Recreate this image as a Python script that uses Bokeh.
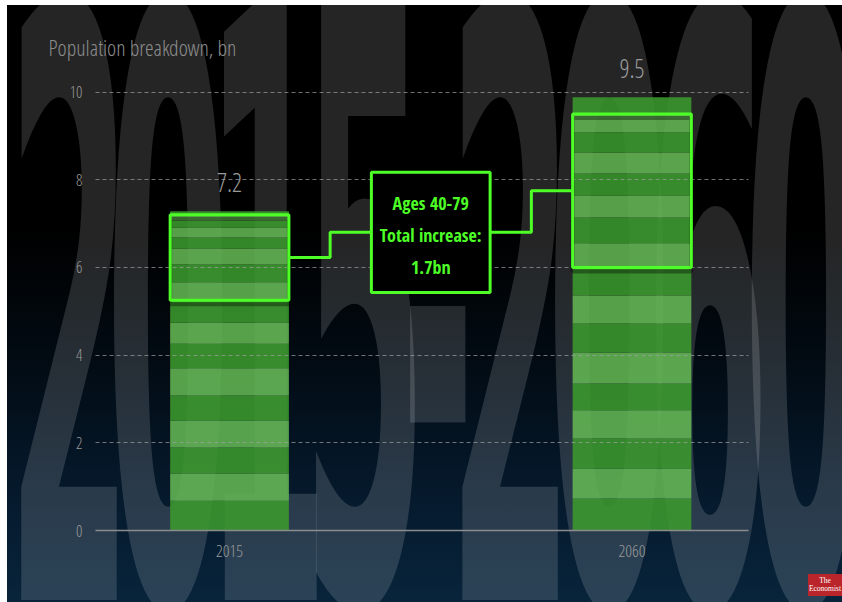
import numpy as np
from bokeh.plotting import figure
from bokeh.models import (ColumnDataSource, FixedTicker, InlineStyleSheet, Range1d)
from bokeh.core.properties import value
from bokeh.embed import file_html
from bokeh.resources import INLINE

# ---- data -------------------------------------------------------------
years = ["2015", "2060"]
year_pos = [1, 3]

# cumulative population (bn) at each age-band boundary, youngest band first
band_edges_2015 = [0, 0.68, 1.30, 1.89, 2.51, 3.08, 3.70, 4.26, 4.74, 5.25,
                   5.66, 6.07, 6.43, 6.68, 6.91, 7.07, 7.20, 7.28]
band_edges_2060 = [0, 0.73, 1.41, 2.10, 2.74, 3.35, 4.06, 4.72, 5.36, 6.00,
                   6.55, 7.14, 7.64, 8.14, 8.62, 9.08, 9.50, 9.88]

# span of the 40-79 age group in each year (bn)
cohort_low = [5.25, 6.00]
cohort_high = [7.2, 9.5]

y_ticks = [0, 2, 4, 6, 8, 10]

title_text = "Population breakdown, bn"
note_lines = ["Ages 40-79", "Total increase:", "1.7bn"]
watermark = "2015-2060"

# ---- style ------------------------------------------------------------
LIGHT_FONT = "Open Sans Condensed Light"
BOLD_FONT = "Open Sans Condensed"
GREEN = "#4dff26"
DARK = "#3b9a2e"
LIGHT = "#63b653"
GREY = "#9a9a9a"
BAR_W = 0.59
NOTE_BOTTOM, NOTE_TOP = 5.43, 8.17

W, H = 842, 602
BORDER_L, BORDER_R, BORDER_T, BORDER_B = 95, 94, 55, 72
PX_PER_UNIT = 43.85
Y_MAX = (H - BORDER_T - BORDER_B) / PX_PER_UNIT

css = """
:host {
  position: relative;
  overflow: hidden;
  background:
    linear-gradient(to right, #fff 0, #fff 7px, transparent 7px),
    linear-gradient(to bottom, #fff 0, #fff 5px, transparent 5px),
    linear-gradient(to bottom, #000 0px, #000 230px, #020b13 360px, #05182a 480px, #08243b 602px);
}
:host::before {
  content: "%s";
  position: absolute;
  left: 7px;
  top: 5px;
  width: 3900px;
  height: 597px;
  overflow: hidden;
  white-space: nowrap;
  font-family: 'DejaVu Sans', sans-serif;
  font-weight: bold;
  font-size: 819px;
  line-height: 623px;
  letter-spacing: -0.15em;
  color: rgba(255, 255, 255, 0.145);
  transform-origin: 0 0;
  transform: scaleX(0.22);
}
:host::after {
  content: "The\\A Economist";
  white-space: pre;
  position: absolute;
  left: 808px;
  top: 574px;
  width: 34px;
  height: 22px;
  box-sizing: border-box;
  padding-top: 3px;
  background: #b9252a;
  color: #fff;
  font-family: 'Liberation Serif', serif;
  font-size: 7.5px;
  line-height: 8px;
  text-align: center;
  z-index: 10;
}
""" % watermark

p = figure(width=W, height=H, output_backend="svg", toolbar_location=None,
           x_range=Range1d(0.334, 3.579), y_range=Range1d(0, Y_MAX),
           min_border_left=BORDER_L, min_border_right=BORDER_R,
           min_border_top=BORDER_T, min_border_bottom=BORDER_B,
           background_fill_alpha=0, border_fill_alpha=0,
           outline_line_color=None,
           stylesheets=[InlineStyleSheet(css=css)])

# ---- title ------------------------------------------------------------------
p.title.text = title_text
p.title.align = "left"
p.title.offset = 48 - BORDER_L
p.title.standoff = -12
p.title.text_color = "#8c8c8c"
p.title.text_font = LIGHT_FONT
p.title.text_font_style = "normal"
p.title.text_font_size = "22px"

# ---- axes & grid --------------------------------------------------------
p.xaxis.ticker = FixedTicker(ticks=year_pos)
p.xaxis.major_label_overrides = {pos: yr for pos, yr in zip(year_pos, years)}
p.xaxis.axis_line_color = "#8c8c8c"
p.xaxis.axis_line_width = 1.5
p.xaxis.major_tick_line_color = None
p.xaxis.minor_tick_line_color = None
p.xaxis.major_label_text_color = GREY
p.xaxis.major_label_text_font = LIGHT_FONT
p.xaxis.major_label_text_font_size = "17px"
p.xaxis.major_label_standoff = 8

p.yaxis.ticker = FixedTicker(ticks=y_ticks)
p.yaxis.axis_line_color = None
p.yaxis.major_tick_line_color = None
p.yaxis.minor_tick_line_color = None
p.yaxis.major_label_text_color = GREY
p.yaxis.major_label_text_font = LIGHT_FONT
p.yaxis.major_label_text_font_size = "16px"
p.yaxis.major_label_standoff = 7

p.xgrid.grid_line_color = None
p.ygrid.ticker = FixedTicker(ticks=[t for t in y_ticks if t > 0])
p.ygrid.grid_line_color = "#a0a0a0"
p.ygrid.grid_line_alpha = 0.7
p.ygrid.grid_line_dash = "4 3"
p.ygrid.level = "guide"

# ---- striped bars (one stripe per age band) -----------------------------
for pos, edges in zip(year_pos, [band_edges_2015, band_edges_2060]):
    e = np.asarray(edges, dtype=float)
    n = len(e) - 1
    src = ColumnDataSource(dict(
        bottom=e[:-1], top=e[1:],
        color=[DARK if i % 2 == 0 else LIGHT for i in range(n)],
    ))
    p.quad(left=pos - BAR_W / 2, right=pos + BAR_W / 2, bottom="bottom", top="top",
           fill_color="color", fill_alpha=0.88, line_color=None, source=src)

# ---- 40-79 highlight boxes ---------------------------------------------
shadow = 4 / PX_PER_UNIT
cohort = ColumnDataSource(dict(
    left=[x - BAR_W / 2 for x in year_pos],
    right=[x + BAR_W / 2 for x in year_pos],
    bottom=cohort_low, top=cohort_high,
    sbottom=[v - shadow for v in cohort_low], stop=[v - shadow for v in cohort_high],
))
p.quad(left="left", right="right", bottom="sbottom", top="stop", source=cohort,
       fill_color=None, line_color="black", line_alpha=0.35, line_width=4,
       level="annotation")
p.quad(left="left", right="right", bottom="bottom", top="top", source=cohort,
       fill_color=None, line_color=GREEN, line_width=3, level="annotation")

# ---- connectors and note box --------------------------------------------
note_x = (year_pos[0] + year_pos[1]) / 2
note_mid = (NOTE_BOTTOM + NOTE_TOP) / 2
mids = [(lo + hi) / 2 for lo, hi in zip(cohort_low, cohort_high)]
x_a = (year_pos[0] + BAR_W / 2 + note_x - BAR_W / 2) / 2
x_b = (note_x + BAR_W / 2 + year_pos[1] - BAR_W / 2) / 2
p.multi_line(
    xs=[[year_pos[0] + BAR_W / 2, x_a, x_a, note_x - BAR_W / 2],
        [note_x + BAR_W / 2, x_b, x_b, year_pos[1] - BAR_W / 2]],
    ys=[[mids[0], mids[0], note_mid, note_mid],
        [note_mid, note_mid, mids[1], mids[1]]],
    line_color=GREEN, line_width=3, level="annotation")

p.quad(left=[note_x - BAR_W / 2], right=[note_x + BAR_W / 2],
       bottom=[NOTE_BOTTOM], top=[NOTE_TOP],
       fill_color="black", line_color=GREEN, line_width=3, level="annotation")

p.text(x=[note_x] * 3, y=[note_mid] * 3, text=note_lines,
       y_offset=[-29, 3, 35], text_align="center", text_baseline="middle",
       text_color=GREEN, text_font=value(BOLD_FONT), text_font_style="bold",
       text_font_size="18px", level="overlay")

# ---- value labels above the bars -----------------------------------------
bar_tops = [band_edges_2015[-1], band_edges_2060[-1]]
p.text(x=year_pos, y=bar_tops, text=[f"{v:.1f}" for v in cohort_high],
       y_offset=-29, text_align="center", text_baseline="middle",
       text_color=GREY, text_font=value(LIGHT_FONT), text_font_size="25px",
       level="overlay")

open("out.html", "w").write(file_html(p, INLINE))
